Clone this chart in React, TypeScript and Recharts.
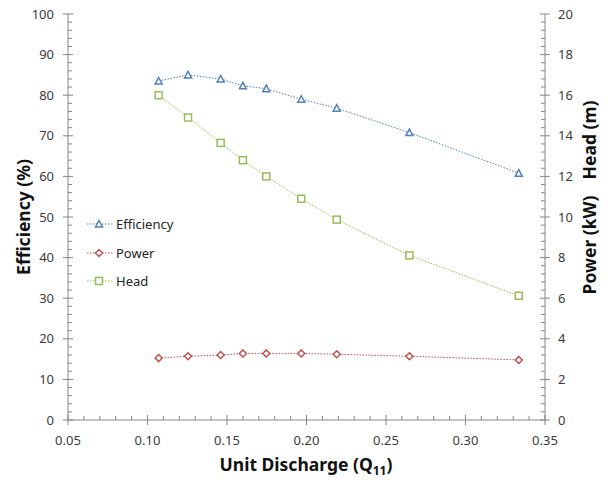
import { ComposedChart, Legend, Line, XAxis, YAxis } from "recharts";

const discharge = [0.107, 0.1255, 0.146, 0.16, 0.1747, 0.1967, 0.219, 0.2647, 0.3335];
const efficiency = [83.5, 85.0, 84.0, 82.3, 81.6, 79.0, 76.8, 70.8, 60.8];
const power = [3.05, 3.14, 3.2, 3.28, 3.28, 3.28, 3.24, 3.14, 2.96];
const head = [16.0, 14.9, 13.65, 12.8, 12.0, 10.9, 9.87, 8.11, 6.12];

const xTicks = [0.05, 0.1, 0.15, 0.2, 0.25, 0.3, 0.35];
const leftTicks = [0, 10, 20, 30, 40, 50, 60, 70, 80, 90, 100];
const rightTicks = [0, 2, 4, 6, 8, 10, 12, 14, 16, 18, 20];

const BLUE = "#4F81BD";
const RED = "#C0504D";
const GREEN = "#9BBB59";
const AXIS = "#868686";
const TICK_TEXT = "#3a3a3a";
const FONT = "'Noto Sans', sans-serif";

const data = discharge.map((q, i) => ({
  q,
  efficiency: efficiency[i],
  power: power[i],
  head: head[i],
}));

// minor ticks: 5 steps between each pair of major ticks
function withMinor(major: number[]) {
  const out: number[] = [];
  for (let i = 0; i < major.length - 1; i++) {
    const step = (major[i + 1] - major[i]) / 5;
    for (let k = 0; k < 5; k++) out.push(+(major[i] + k * step).toFixed(4));
  }
  out.push(major[major.length - 1]);
  return out;
}

const isMajor = (v: number, major: number[]) =>
  major.some((m) => Math.abs(m - v) < 1e-6);

function XTick(props: any) {
  const { x, y, payload } = props;
  const major = isMajor(payload.value, xTicks);
  return (
    <g>
      <line x1={x} x2={x} y1={y - (major ? 5 : 4)} y2={major ? y + 5 : y} stroke={AXIS} />
      {major && (
        <text x={x} y={y + 25} textAnchor="middle" fontSize={13} fill={TICK_TEXT} fontFamily={FONT}>
          {payload.value.toFixed(2)}
        </text>
      )}
    </g>
  );
}

function LeftTick(props: any) {
  const { x, y, payload } = props;
  const major = isMajor(payload.value, leftTicks);
  return (
    <g>
      <line x1={major ? x - 5 : x} x2={x + (major ? 5 : 4)} y1={y} y2={y} stroke={AXIS} />
      {major && (
        <text x={x - 14} y={y + 4.5} textAnchor="end" fontSize={13} fill={TICK_TEXT} fontFamily={FONT}>
          {payload.value}
        </text>
      )}
    </g>
  );
}

function RightTick(props: any) {
  const { x, y, payload } = props;
  const major = isMajor(payload.value, rightTicks);
  return (
    <g>
      <line x1={x - (major ? 5 : 4)} x2={major ? x + 5 : x} y1={y} y2={y} stroke={AXIS} />
      {major && (
        <text x={x + 13} y={y + 4.5} textAnchor="start" fontSize={13} fill={TICK_TEXT} fontFamily={FONT}>
          {payload.value}
        </text>
      )}
    </g>
  );
}

function Marker({ kind, cx, cy }: { kind: string; cx: number; cy: number }) {
  if (kind === "triangle") {
    return (
      <polygon
        points={`${cx},${cy - 3.5} ${cx + 3.5},${cy + 3} ${cx - 3.5},${cy + 3}`}
        fill="#fff"
        stroke={BLUE}
        strokeWidth={1.5}
      />
    );
  }
  if (kind === "diamond") {
    return (
      <polygon
        points={`${cx},${cy - 3.5} ${cx + 3.5},${cy} ${cx},${cy + 3.5} ${cx - 3.5},${cy}`}
        fill="#fff"
        stroke={RED}
        strokeWidth={1.5}
      />
    );
  }
  return (
    <rect x={cx - 3.5} y={cy - 3.5} width={7} height={7} fill="#fff" stroke={GREEN} strokeWidth={1.5} />
  );
}

const dotFor = (kind: string) => (p: any) =>
  <Marker key={`${kind}-${p.index}`} kind={kind} cx={p.cx} cy={p.cy} />;

const legendItems = [
  { name: "Efficiency", color: BLUE, kind: "triangle" },
  { name: "Power", color: RED, kind: "diamond" },
  { name: "Head", color: GREEN, kind: "square" },
];

function LegendBox() {
  return (
    <div style={{ fontFamily: FONT, fontSize: 13, color: "#222" }}>
      {legendItems.map((it) => (
        <div key={it.name} style={{ display: "flex", alignItems: "center", height: 28.5 }}>
          <svg width={28} height={12}>
            <line x1={1} x2={27} y1={6} y2={6} stroke={it.color} strokeDasharray="1.5 1.5" />
            <Marker kind={it.kind} cx={13} cy={6} />
          </svg>
          <span style={{ marginLeft: 2 }}>{it.name}</span>
        </div>
      ))}
    </div>
  );
}

export default function App() {
  return (
    <div style={{ position: "absolute", left: 0, top: 0, width: 611, height: 484, background: "#fff" }}>
      <ComposedChart
        width={611}
        height={484}
        data={data}
        margin={{ top: 14, right: 0, bottom: 0, left: 0 }}
      >
        <XAxis
          dataKey="q"
          type="number"
          domain={[0.05, 0.35]}
          ticks={withMinor(xTicks)}
          interval={0}
          tickSize={0}
          tickMargin={0}
          tickLine={false}
          tick={XTick}
          axisLine={{ stroke: AXIS }}
          height={64}
          allowDataOverflow
        />
        <YAxis
          yAxisId="left"
          domain={[0, 100]}
          ticks={withMinor(leftTicks)}
          interval={0}
          tickSize={0}
          tickMargin={0}
          tickLine={false}
          tick={LeftTick}
          axisLine={{ stroke: AXIS }}
          width={68}
        />
        <YAxis
          yAxisId="right"
          orientation="right"
          domain={[0, 20]}
          ticks={withMinor(rightTicks)}
          interval={0}
          tickSize={0}
          tickMargin={0}
          tickLine={false}
          tick={RightTick}
          axisLine={{ stroke: AXIS }}
          width={66}
        />
        <Legend
          layout="vertical"
          align="center"
          verticalAlign="middle"
          content={LegendBox}
          wrapperStyle={{ position: "absolute", left: 86, top: 210, width: "auto" }}
        />
        <Line
          yAxisId="left"
          dataKey="efficiency"
          name="Efficiency"
          stroke={BLUE}
          strokeDasharray="1.5 1.5"
          dot={dotFor("triangle")}
          isAnimationActive={false}
        />
        <Line
          yAxisId="right"
          dataKey="power"
          name="Power"
          stroke={RED}
          strokeDasharray="1.5 1.5"
          dot={dotFor("diamond")}
          isAnimationActive={false}
        />
        <Line
          yAxisId="right"
          dataKey="head"
          name="Head"
          stroke={GREEN}
          strokeDasharray="1.5 1.5"
          dot={dotFor("square")}
          isAnimationActive={false}
        />
      </ComposedChart>
      <svg
        width={611}
        height={484}
        style={{ position: "absolute", left: 0, top: 0, pointerEvents: "none" }}
        fontFamily={FONT}
        fontWeight="bold"
        fontSize={17.5}
        fill="#111"
      >
        <text transform="translate(30,217) rotate(-90)" textAnchor="middle">
          Efficiency (%)
        </text>
        <text transform="translate(596,140) rotate(-90)" textAnchor="middle">
          Head (m)
        </text>
        <text transform="translate(596,245) rotate(-90)" textAnchor="middle">
          Power (kW)
        </text>
        <text x={306} y={471} textAnchor="middle">
          Unit Discharge (Q
          <tspan fontSize={12} dy={4}>11</tspan>
          <tspan dy={-4}>)</tspan>
        </text>
      </svg>
    </div>
  );
}
